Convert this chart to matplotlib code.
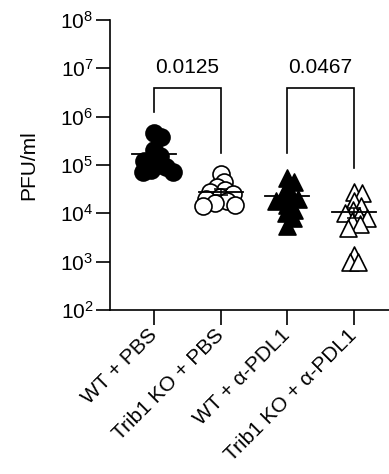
import numpy as np
import matplotlib
matplotlib.use("Agg")
import matplotlib.pyplot as plt

plt.rcParams['font.family'] = ['Liberation Sans', 'DejaVu Sans']
plt.rcParams['mathtext.fontset'] = 'custom'
plt.rcParams['mathtext.rm'] = 'Liberation Sans'
plt.rcParams['mathtext.it'] = 'Liberation Sans'
plt.rcParams['mathtext.default'] = 'regular'

categories = ["WT + PBS", "Trib1 KO + PBS", "WT + α-PDL1", "Trib1 KO + α-PDL1"]
wt_pbs = [4.6e5, 3.8e5, 2.0e5, 1.5e5, 1.3e5, 1.2e5, 1.0e5, 9e4, 8e4, 7e4, 7e4]
ko_pbs = [6.5e4, 4.5e4, 3.5e4, 3.0e4, 2.8e4, 2.5e4, 2.2e4, 2.0e4, 1.8e4, 1.6e4, 1.5e4, 1.4e4]
wt_pdl1 = [5.5e4, 4.5e4, 3.5e4, 2.5e4, 2.2e4, 2.0e4, 1.8e4, 1.5e4, 1.2e4, 1.0e4, 8e3, 5.5e3]
ko_pdl1 = [2.8e4, 2.6e4, 1.8e4, 1.4e4, 1.2e4, 1.0e4, 9e3, 8e3, 7e3, 6e3, 5e3, 1.4e3, 1.0e3, 1.0e3]
groups = [wt_pbs, ko_pbs, wt_pdl1, ko_pdl1]
p_values = ["0.0125", "0.0467"]
comparisons = [(0, 1), (2, 3)]

FS = 15
W, H = 389, 474
fig = plt.figure(figsize=(W / 100, H / 100), dpi=100)
ax = fig.add_axes([110 / W, (H - 310) / H, (W - 110) / W, 290 / H])
ax.set_yscale('log')
ax.set_ylim(1e2, 1e8)
ax.set_xlim(-0.66, 3.525)

styles = [
    dict(marker='o', facecolor='black', edgecolor='black'),
    dict(marker='o', facecolor='white', edgecolor='black'),
    dict(marker='^', facecolor='black', edgecolor='black'),
    dict(marker='^', facecolor='white', edgecolor='black'),
]

# simple beeswarm layout in pixel space (allowing overlap like Prism)
px_per_x = ax.transData.transform((1, 1))[0] - ax.transData.transform((0, 1))[0]
def y_px(v):
    return ax.transData.transform((0, v))[1]

min_dist = 8.0  # px; smaller than marker size to allow overlap
for i, vals in enumerate(groups):
    order = np.argsort(vals)[::-1]
    placed = []
    xs = np.zeros(len(vals))
    for idx in order:
        yp = y_px(vals[idx])
        cands = [0.0]
        for k in range(1, 40):
            cands += [k * 1.0, -k * 1.0]
        for c in cands:
            ok = all((c - px) ** 2 + (yp - py) ** 2 >= min_dist ** 2 for px, py in placed)
            if ok:
                break
        placed.append((c, yp))
        xs[idx] = i + c / px_per_x
    st = styles[i]
    ax.scatter(xs, vals, s=150, marker=st['marker'], facecolors=st['facecolor'],
               edgecolors=st['edgecolor'], linewidths=1.2, zorder=3)
    m = np.mean(vals)
    sem = np.std(vals, ddof=1) / np.sqrt(len(vals))
    ax.plot([i - 0.33, i + 0.33], [m, m], color='black', lw=1.3, zorder=4)
    ax.errorbar([i], [m], yerr=[[sem], [sem]], fmt='none', ecolor='black',
                elinewidth=1.1, capsize=5, capthick=1.1, zorder=4)

# brackets
for (a, b), p in zip(comparisons, p_values):
    top = 3.9e6
    left_end = 1.26e6 if a == 0 else 1.8e5
    right_end = 1.8e5 if b == 1 else 8.7e4
    ax.plot([a, a, b, b], [left_end, top, top, right_end], color='black', lw=1.2,
            solid_joinstyle='miter', zorder=2)
    ax.annotate(p, xy=((a + b) / 2, top), xytext=(0, 8), textcoords='offset points',
                ha='center', va='bottom', fontsize=FS)

ax.set_yticks([10.0 ** k for k in range(2, 9)])
ax.set_yticklabels([f"$10^{{{k}}}$" for k in range(2, 9)], fontsize=FS)
ax.yaxis.set_minor_locator(matplotlib.ticker.NullLocator())
ax.set_xticks(range(4))
ax.set_xticklabels(categories, rotation=45, ha='right', va='center',
                   rotation_mode='anchor', fontsize=FS)
ax.tick_params(axis='y', length=10, width=1.2, pad=2)
ax.tick_params(axis='x', length=11, width=1.2, pad=5)
ax.set_ylabel("PFU/ml", fontsize=FS, labelpad=16)

for s in ['top', 'right']:
    ax.spines[s].set_visible(False)
for s in ['left', 'bottom']:
    ax.spines[s].set_linewidth(1.2)

fig.savefig("out.png", dpi=100)
